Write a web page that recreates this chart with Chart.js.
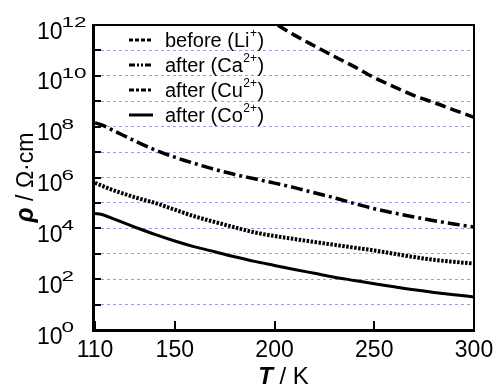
<!DOCTYPE html>
<html>
<head>
<meta charset="utf-8">
<script src="https://cdn.jsdelivr.net/npm/chart.js@4"></script>
<style>
  html, body { margin: 0; padding: 0; background: #fff; }
  #wrap { width: 495px; height: 385px; position: relative; }
</style>
</head>
<body>
<div id="wrap"><canvas id="rho-chart"></canvas></div>
<script>
// temperatures (K) and resistivities (ohm cm)
const temps = [110, 113, 120, 130, 140, 150, 160, 170, 180, 190, 200, 210, 220, 230, 240, 250, 260, 270, 280, 290, 300];
const liTemps = [195, 200, 210, 220, 230, 240, 250, 260, 270, 280, 290, 300];
const rhoLi = [2.2e12, 1.2e12, 4.0e11, 1.5e11, 5.8e10, 2.3e10, 8.5e9, 3.7e9, 1.66e9, 8.9e8, 4.5e8, 2.35e8];
const rhoCa = [6.2e5, 4.9e5, 3.0e5, 1.66e5, 1.0e5, 5.4e4, 2.95e4, 1.78e4, 1.1e4, 6.9e3, 5.0e3, 3.8e3, 2.9e3, 2.25e3, 1.74e3, 1.35e3, 1.0e3, 740, 575, 480, 410];
const rhoCu = [1.41e8, 1.2e8, 6.6e7, 2.75e7, 1.23e7, 6.3e6, 3.55e6, 2.09e6, 1.32e6, 8.9e5, 6.0e5, 4.0e5, 2.5e5, 1.58e5, 9.5e4, 5.9e4, 4.0e4, 2.8e4, 2.0e4, 1.48e4, 1.12e4];
const rhoCo = [3.8e4, 3.6e4, 2.24e4, 1.12e4, 5.75e3, 3.16e3, 1.86e3, 1.2e3, 760, 500, 347, 240, 170, 120, 89, 66, 50, 38, 30, 24.5, 20];

const xTicks = [110, 150, 200, 250, 300];
const yExps = [0, 1, 2, 3, 4, 5, 6, 7, 8, 9, 10, 11, 12];

const states = ["before", "after", "after", "after"];
const ions = ["Li", "Ca", "Cu", "Co"];
const charges = ["+", "2+", "2+", "2+"];

const FONT = "'Liberation Sans', Arial, sans-serif";

const pts = (xs, ys) => xs.map((t, i) => ({ x: t, y: ys[i] }));

// axis labels, inner ticks, frame and legend
const decor = {
  id: "decor",
  afterDraw(chart) {
    const { ctx, chartArea: a, scales } = chart;
    const x = scales.x, y = scales.y;
    ctx.save();
    ctx.strokeStyle = "#000";
    ctx.fillStyle = "#000";

    // top / right frame
    ctx.lineWidth = 2;
    ctx.beginPath();
    ctx.moveTo(a.left - 1, a.top);
    ctx.lineTo(a.right, a.top);
    ctx.lineTo(a.right, a.bottom + 1);
    ctx.stroke();

    // inner ticks
    ctx.lineWidth = 2;
    y.ticks.forEach((t) => {
      const py = Math.round(y.getPixelForValue(t.value));
      ctx.beginPath();
      ctx.moveTo(a.left, py);
      ctx.lineTo(a.left + 8, py);
      ctx.stroke();
    });
    x.ticks.forEach((t) => {
      const px = Math.round(x.getPixelForValue(t.value));
      ctx.beginPath();
      ctx.moveTo(px, a.bottom);
      ctx.lineTo(px, a.bottom - 9);
      ctx.stroke();
    });

    // y labels 10^n
    ctx.textBaseline = "alphabetic";
    ctx.textAlign = "left";
    y.ticks.forEach((t) => {
      const exp = Math.round(Math.log10(t.value));
      if (exp % 2) return;
      const py = y.getPixelForValue(t.value);
      ctx.font = "23px " + FONT;
      ctx.fillText("10", 37, py + 13.5);
      const w = ctx.measureText("10").width;
      ctx.save();
      ctx.font = "15px " + FONT;
      ctx.translate(37 + w - 1, py + 2);
      ctx.scale(1.5, 1);
      ctx.fillText(String(exp), 0, 0);
      ctx.restore();
    });

    // x labels
    ctx.textAlign = "center";
    ctx.font = "23px " + FONT;
    x.ticks.forEach((t) => {
      ctx.fillText(String(t.value), x.getPixelForValue(t.value), 356.5);
    });

    // x title
    ctx.textAlign = "left";
    ctx.font = "italic bold 24px " + FONT;
    const wT = ctx.measureText("T").width;
    ctx.font = "24px " + FONT;
    const wK = ctx.measureText(" / K").width;
    let cx = (a.left + a.right) / 2 - (wT + wK) / 2;
    ctx.font = "italic bold 24px " + FONT;
    ctx.fillText("T", cx, 384);
    ctx.font = "24px " + FONT;
    ctx.fillText(" / K", cx + wT, 384);

    // y title
    ctx.save();
    ctx.translate(33, (a.top + a.bottom) / 2);
    ctx.rotate(-Math.PI / 2);
    ctx.font = "italic bold 25px " + FONT;
    const wr = ctx.measureText("\u03c1").width;
    ctx.font = "23px " + FONT;
    const wu = ctx.measureText(" / \u03a9\u00b7cm").width;
    let sx = -(wr + wu) / 2;
    ctx.font = "italic bold 25px " + FONT;
    ctx.fillText("\u03c1", sx, 0);
    ctx.font = "23px " + FONT;
    ctx.fillText(" / \u03a9\u00b7cm", sx + wr, 0);
    ctx.restore();

    // legend
    chart.data.datasets.forEach((ds, i) => {
      const cy = 40 + 25 * i;
      ctx.save();
      ctx.lineWidth = 3;
      ctx.setLineDash(ds.legendDash);
      ctx.beginPath();
      ctx.moveTo(129, cy);
      ctx.lineTo(153, cy);
      ctx.stroke();
      ctx.restore();
      let tx = 165;
      ctx.font = "20px " + FONT;
      const main = states[i] + " (" + ions[i];
      ctx.fillText(main, tx, cy + 7);
      tx += ctx.measureText(main).width;
      ctx.font = "12px " + FONT;
      ctx.fillText(charges[i], tx + 0.5, cy - 3.5);
      tx += ctx.measureText(charges[i]).width + 1;
      ctx.font = "20px " + FONT;
      ctx.fillText(")", tx, cy + 7);
    });
    ctx.restore();
  },
};

new Chart(document.getElementById("rho-chart"), {
  type: "line",
  data: {
    datasets: [
      {
        label: "before (Li+)",
        data: pts(liTemps, rhoLi),
        borderDash: [11, 5],
        borderWidth: 3.5,
        legendDash: [4, 2],
        clip: 0,
      },
      {
        label: "after (Ca2+)",
        data: pts(temps, rhoCa),
        borderDash: [2.5, 1.5],
        borderWidth: 4,
        legendDash: [6, 2, 2, 2, 2, 2],
      },
      {
        label: "after (Cu2+)",
        data: pts(temps, rhoCu),
        borderDash: [12, 4, 3, 4],
        borderWidth: 3.5,
        legendDash: [5, 2, 3, 2],
      },
      {
        label: "after (Co2+)",
        data: pts(temps, rhoCo),
        borderWidth: 3,
        legendDash: [],
      },
    ],
  },
  options: {
    responsive: true,
    maintainAspectRatio: false,
    animation: false,
    layout: { padding: { left: 93, top: 25, right: 21, bottom: 55 } },
    elements: {
      point: { radius: 0 },
      line: { borderColor: "#000", cubicInterpolationMode: "monotone", fill: false, borderCapStyle: "butt" },
    },
    plugins: {
      legend: { display: false },
      tooltip: { enabled: false },
    },
    scales: {
      x: {
        type: "linear",
        min: 109,
        max: 300,
        grid: { display: false, drawTicks: false },
        border: { color: "#000", width: 3 },
        ticks: { display: false },
        afterBuildTicks: (s) => {
          s.ticks = xTicks.map((v) => ({ value: v }));
        },
      },
      y: {
        type: "logarithmic",
        min: 1,
        max: 1e12,
        grid: { color: "#9898ff", lineWidth: 1, drawTicks: false },
        border: { color: "#000", width: 3, dash: [3, 3] },
        ticks: { display: false },
        afterBuildTicks: (s) => {
          s.ticks = yExps.map((e) => ({ value: Math.pow(10, e) }));
        },
      },
    },
  },
  plugins: [decor],
});
</script>
</body>
</html>
